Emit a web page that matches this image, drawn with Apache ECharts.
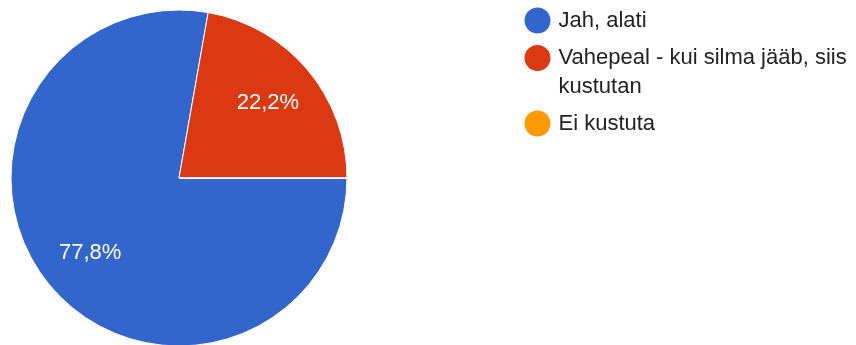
<!DOCTYPE html>
<html>
<head>
<meta charset="utf-8">
<script src="https://cdn.jsdelivr.net/npm/echarts@6/dist/echarts.min.js"></script>
<style>
  html, body { margin: 0; padding: 0; background: #fff; }
  #chart { width: 856px; height: 345px; }
</style>
</head>
<body>
<div id="chart"></div>
<script>
// Survey answers and their counts
const categories = ['Jah, alati', 'Vahepeal - kui silma jääb, siis kustutan', 'Ei kustuta'];
const counts = [7, 2, 0];
const colors = ['#3366cc', '#dc3912', '#ff9900'];

const FONT = '"Liberation Sans", Arial, sans-serif';
const pieData = categories.map((name, i) => ({ name, value: counts[i], itemStyle: { color: colors[i] } }));

const fmtPercent = p => p.value > 0 ? p.percent.toFixed(1).replace('.', ',') + '%' : '';

// The long answer wraps its last word onto a second line; the leading empty
// line keeps the first text line level with the legend dot.
const wrapLong = n => '\n' + n.replace(/ (\S+)$/, '\n$1');

// One legend block per answer, stacked on the right
const legendTops = [5.5, 14.5, 108.5];
const legends = categories.map((name, i) => ({
  orient: 'vertical',
  left: 522.5,
  top: legendTops[i],
  padding: 0,
  icon: 'circle',
  itemWidth: 32,
  itemHeight: 28,
  selectedMode: false,
  data: [name],
  formatter: i === 1 ? wrapLong : (n => n),
  textStyle: {
    fontFamily: FONT,
    fontSize: 22,
    lineHeight: 29,
    color: '#222222'
  }
}));

const chart = echarts.init(document.getElementById('chart'), null, { renderer: 'canvas' });
chart.setOption({
  animation: false,
  backgroundColor: '#ffffff',
  legend: legends,
  series: [
    {
      type: 'pie',
      center: [179, 178],
      radius: [0, 168],
      startAngle: 0,
      clockwise: true,
      avoidLabelOverlap: false,
      silent: true,
      label: { show: false },
      labelLine: { show: false },
      itemStyle: { borderColor: '#ffffff', borderWidth: 1 },
      data: pieData
    },
    {
      // transparent ring carrying the percentage labels further out
      type: 'pie',
      center: [179, 178],
      radius: [58, 168],
      startAngle: 0,
      clockwise: true,
      avoidLabelOverlap: false,
      silent: true,
      z: 3,
      itemStyle: { color: 'rgba(0,0,0,0)', borderWidth: 0 },
      label: {
        show: true,
        position: 'inside',
        formatter: fmtPercent,
        color: '#ffffff',
        fontFamily: FONT,
        fontSize: 22
      },
      labelLine: { show: false },
      data: categories.map((name, i) => ({ name, value: counts[i] }))
    }
  ]
});
</script>
</body>
</html>
